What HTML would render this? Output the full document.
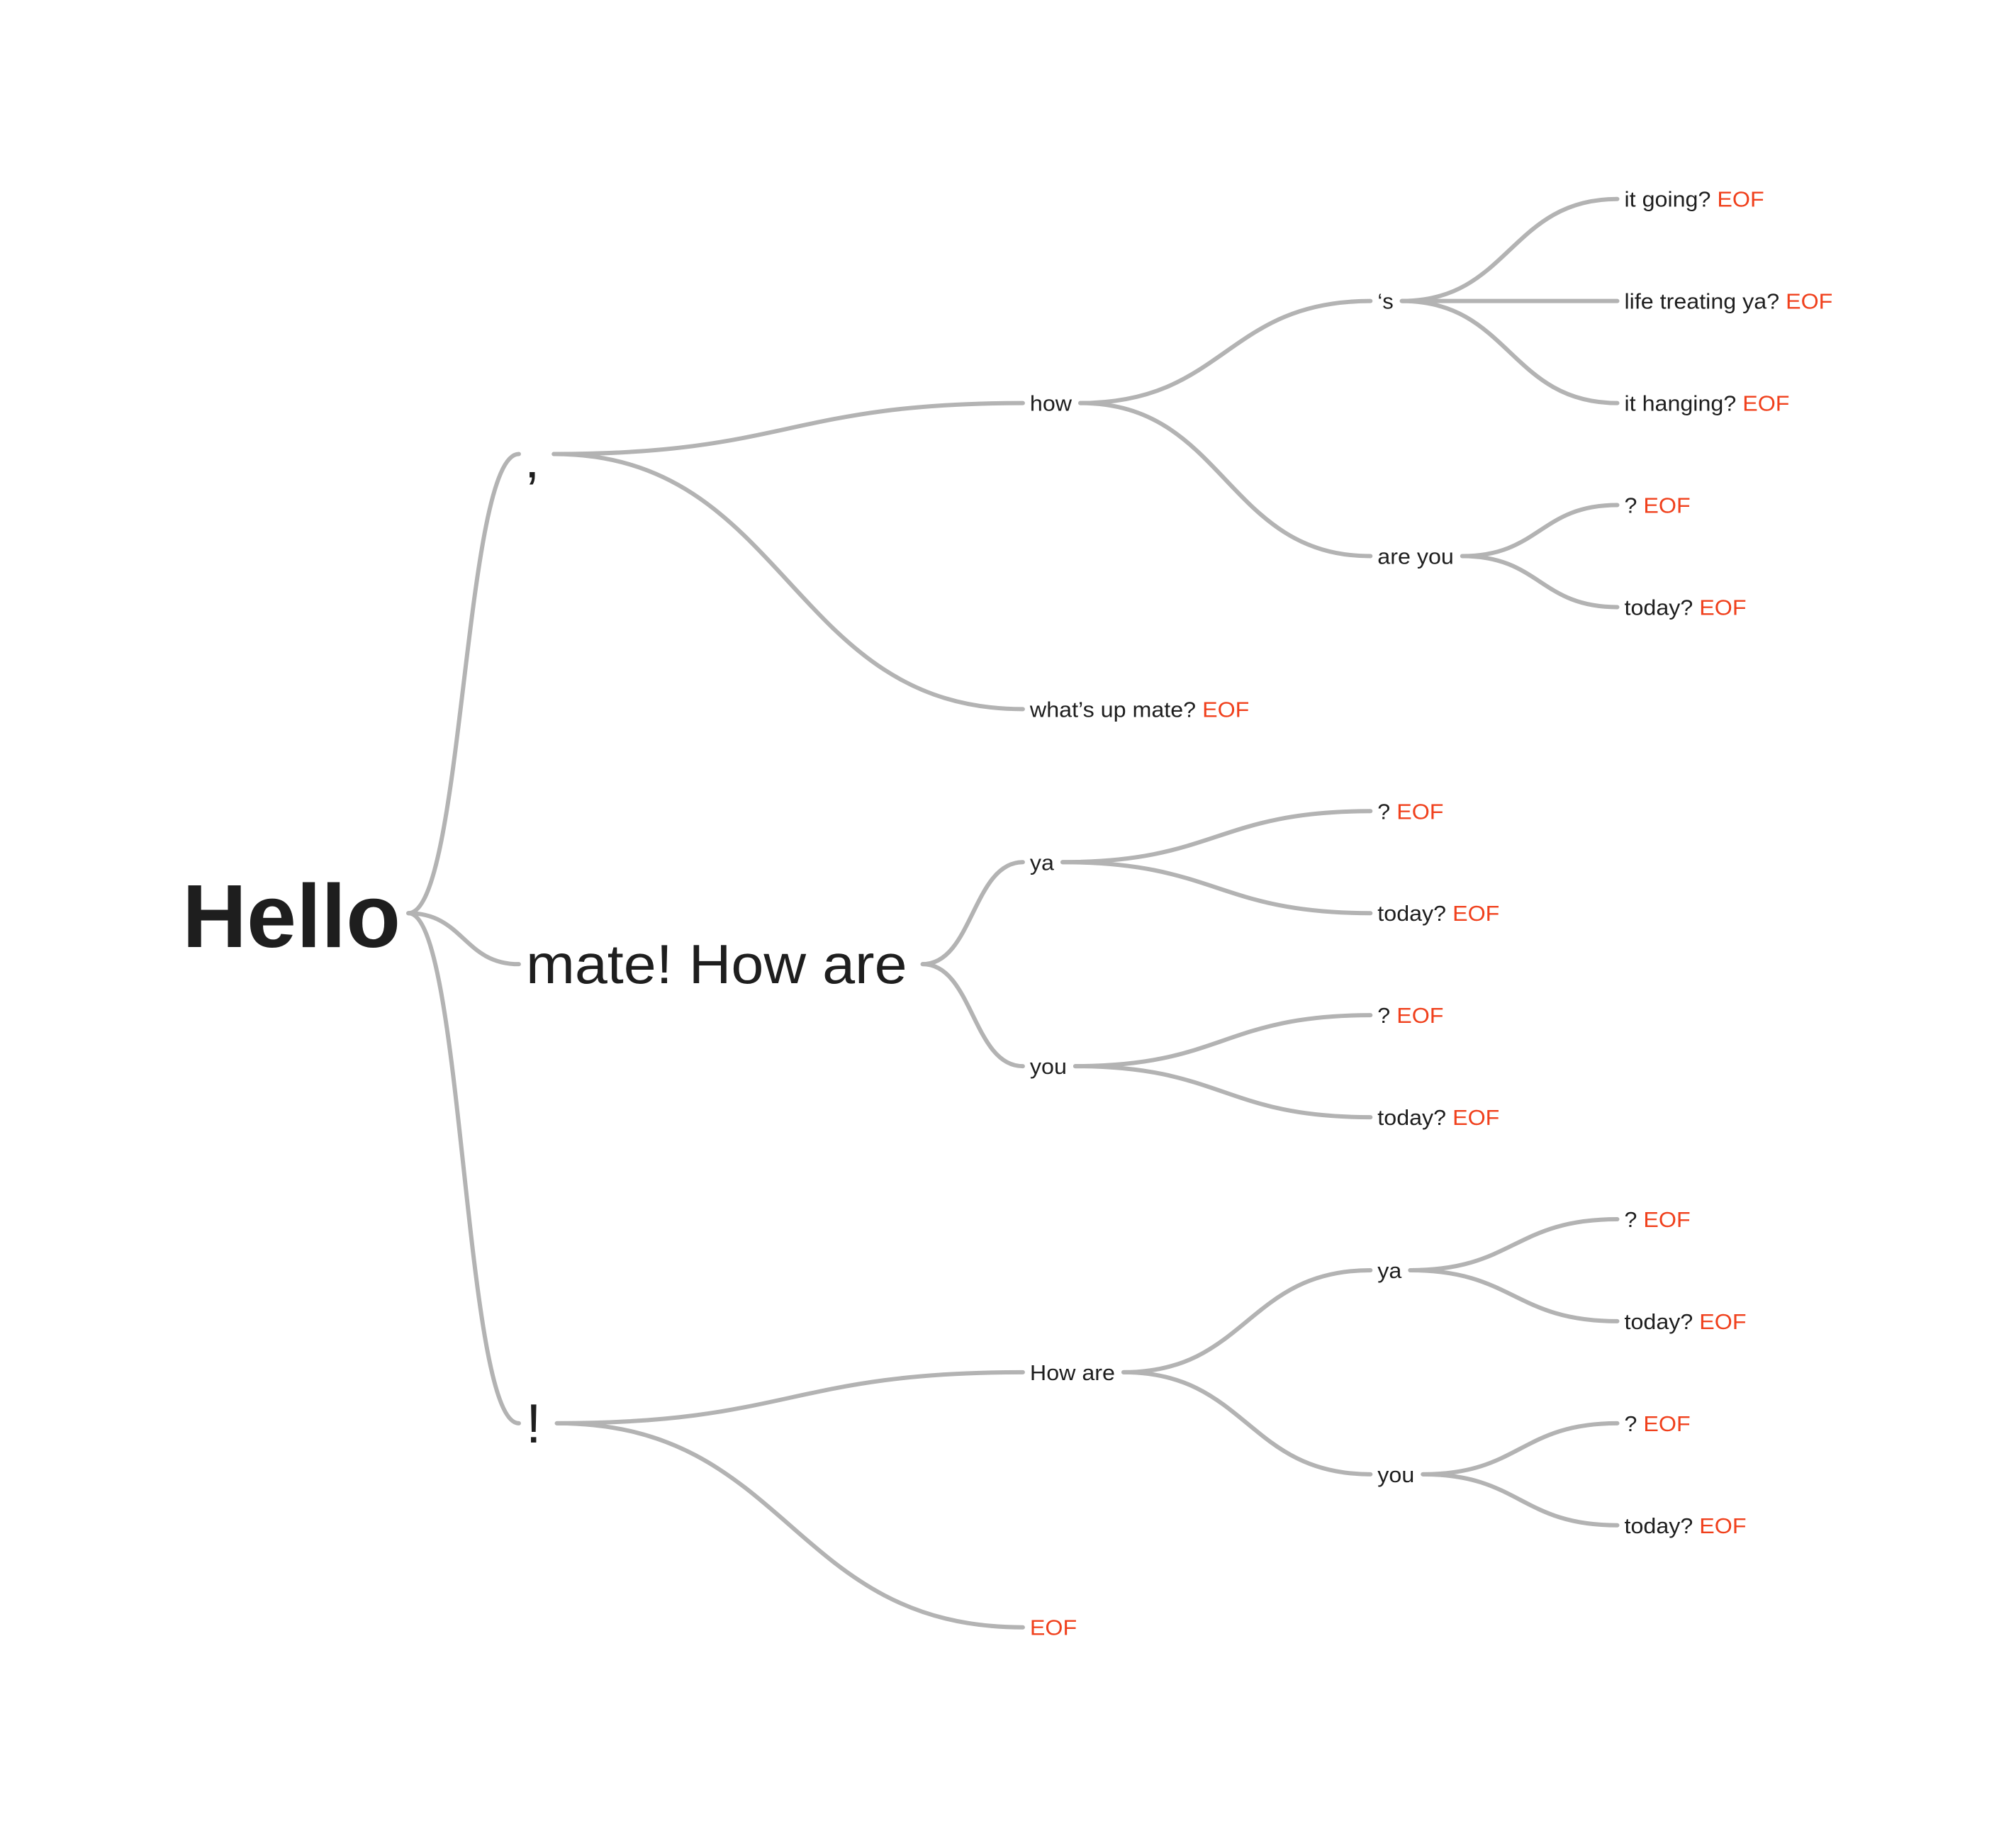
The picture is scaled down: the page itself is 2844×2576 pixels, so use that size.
<!DOCTYPE html>
<html><head><meta charset="utf-8">
<style>
html,body{margin:0;padding:0;background:#fff;}
svg{display:block;}
text{font-family:"Liberation Sans",sans-serif;fill:#1e1e1e;}
.eof{fill:#f0401c;}
</style></head>
<body>
<svg id="chart" width="2844" height="2576" viewBox="0 0 2844 2576" xmlns="http://www.w3.org/2000/svg">
<g id="links"></g>
<g id="labels"></g>
</svg>
<script>
// Tree data: label text, whether it ends with EOF, parent index, depth, row position
const nodeLabels = ["Hello", "\u2019", "mate! How are", "!", "how", "what\u2019s up mate?", "\u2018s", "are you", "it going?", "life treating ya?", "it hanging?", "?", "today?", "ya", "you", "?", "today?", "?", "today?", "How are", "", "ya", "you", "?", "today?", "?", "today?"];
const nodeEOF = [false,false,false,false,false,true,false,false,true,true,true,true,true,false,false,true,true,true,true,false,true,false,false,true,true,true,true];
const nodeParent = [-1,0,0,0,1,1,4,4,6,6,6,7,7,2,2,13,13,14,14,3,3,19,19,21,21,22,22];
const nodeDepth = [0,1,1,1,2,2,3,3,4,4,4,4,4,2,2,3,3,3,3,2,2,3,3,4,4,4,4];
const nodeRow = [7,2.5,7.5,12,2,5,1,3.5,0,1,2,3,4,6.5,8.5,6,7,8,9,11.5,14,10.5,12.5,10,11,12,13];

const S = 1.823;
const depthX = [310, 407, 797, 1066, 1257].map(v => v * S);
const fontSize = [126, 78, 31, 31, 31];
const stretch = [1, 1.06, 1.04, 1.04, 1.04];
const rowY = r => (154 + r * 78.95) * S;

const NS = "http://www.w3.org/2000/svg";
const linksG = document.getElementById("links");
const labelsG = document.getElementById("labels");
const rightEdge = [];

nodeLabels.forEach((lab, i) => {
  const d = nodeDepth[i];
  const t = document.createElementNS(NS, "text");
  
  
  const y = rowY(nodeRow[i]);
  t.setAttribute("y", lab === "\u2019" ? y + 52 : y);
  t.setAttribute("dominant-baseline", "central");
  t.setAttribute("font-size", fontSize[d]);
  if (d === 0) {
    t.setAttribute("x", depthX[0]);
    t.setAttribute("text-anchor", "end");
    t.setAttribute("font-weight", "bold");
    t.setAttribute("y", y + 4);
  } else {
    t.setAttribute("x", depthX[d]);
  }
  if (lab) {
    const s1 = document.createElementNS(NS, "tspan");
    s1.textContent = lab;
    t.appendChild(s1);
  }
  if (nodeEOF[i]) {
    const s2 = document.createElementNS(NS, "tspan");
    s2.setAttribute("class", "eof");
    s2.textContent = (lab ? " " : "") + "EOF";
    t.appendChild(s2);
  }
  labelsG.appendChild(t);
  let w = t.getComputedTextLength();
  if (d > 0 && stretch[d] !== 1 && w > 30) {
    w = w * stretch[d];
    t.setAttribute("textLength", w);
    t.setAttribute("lengthAdjust", "spacingAndGlyphs");
  }
  if (d === 0) rightEdge[i] = depthX[0] + 11;
  else rightEdge[i] = depthX[d] + w + (d === 1 ? 22 : 12);
});

nodeLabels.forEach((lab, i) => {
  const p = nodeParent[i];
  if (p < 0) return;
  const x0 = rightEdge[p], y0 = rowY(nodeRow[p]);
  const x1 = depthX[nodeDepth[i]] - 10, y1 = rowY(nodeRow[i]);
  const xm = (x0 + x1) / 2;
  const path = document.createElementNS(NS, "path");
  
  
  path.setAttribute("d", `M${x0},${y0} C${xm},${y0} ${xm},${y1} ${x1},${y1}`);
  path.setAttribute("fill", "none");
  path.setAttribute("stroke", "#b3b3b3");
  path.setAttribute("stroke-width", "6");
  path.setAttribute("stroke-linecap", "round");
  linksG.appendChild(path);
});
</script>
</body></html>
